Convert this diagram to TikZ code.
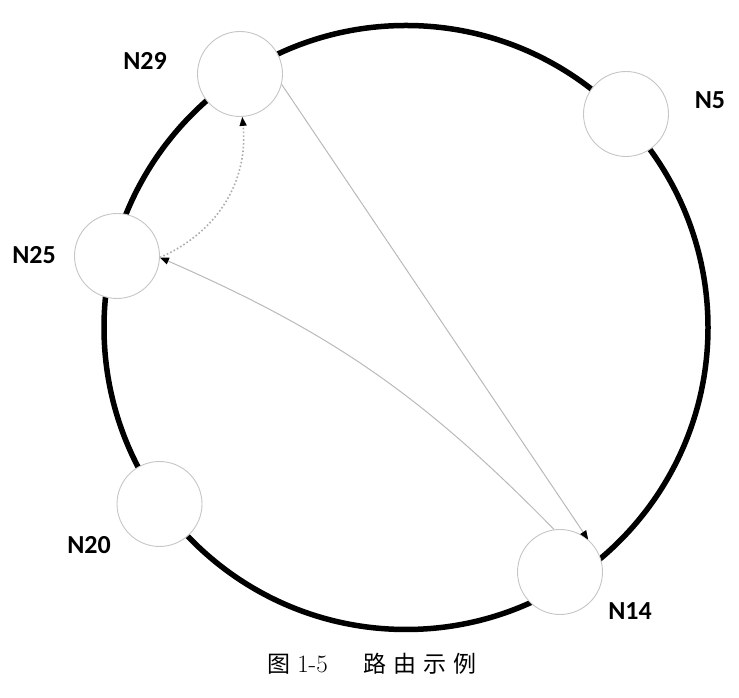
\documentclass[tikz,border=0pt]{standalone}
\usepackage{fontspec}
\newfontfamily\labelfont{Carlito}
\newfontfamily\cjk{Noto Sans CJK SC}
\usetikzlibrary{arrows.meta}

\begin{document}
\begin{tikzpicture}[x=1pt, y=1pt,
    ring/.style={circle, draw=black, line width=5.5pt, minimum size=604pt, inner sep=0pt},
    peer/.style={circle, draw=gray!45, fill=white, line width=0.9pt, minimum size=85pt, inner sep=0pt},
    peerlabel/.style={font=\labelfont\bfseries\fontsize{26}{26}\selectfont},
    route/.style={draw=gray!55, line width=1pt, -{Triangle[length=9pt,width=7pt,color=black]}},
    hop/.style={route, draw=gray!65, line width=1.6pt, dash pattern=on 1.6pt off 2.2pt}
]
    \useasboundingbox (0,0) rectangle (739,698);

    % Ring
    \node[ring] (ring) at (406,370.5) {};

    % Peers on the ring
    \foreach \name/\x/\y in {n29/240/624, n5/626/584, n25/117/442, n20/159.5/194, n14/560/126} {
        \node[peer] (\name) at (\x,\y) {};
    }

    % Peer labels
    \node[peerlabel] (l29) at (145,637) {N29};
    \node[peerlabel] (l5) at (710,598) {N5};
    \node[peerlabel] (l25) at (34,443) {N25};
    \node[peerlabel] (l20) at (89,153) {N20};
    \node[peerlabel] (l14) at (630,87) {N14};

    % Routing
    \draw[route] (n29.-14) -- (n14.49);
    \draw[route] (n14.98) to[bend right=11] (n25.-2);
    \draw[hop] (n25.-2) to[bend right=36] (n29.-87);

    % Caption
    \node[font=\fontsize{23}{23}\selectfont] (caption) at (372,34)
        {{\cjk 图}\hspace{7pt}{\fontsize{25}{25}\selectfont 1-5}\hspace{36pt}{\cjk 路\hspace{7pt}由\hspace{7pt}示\hspace{7pt}例}};
\end{tikzpicture}
\end{document}
